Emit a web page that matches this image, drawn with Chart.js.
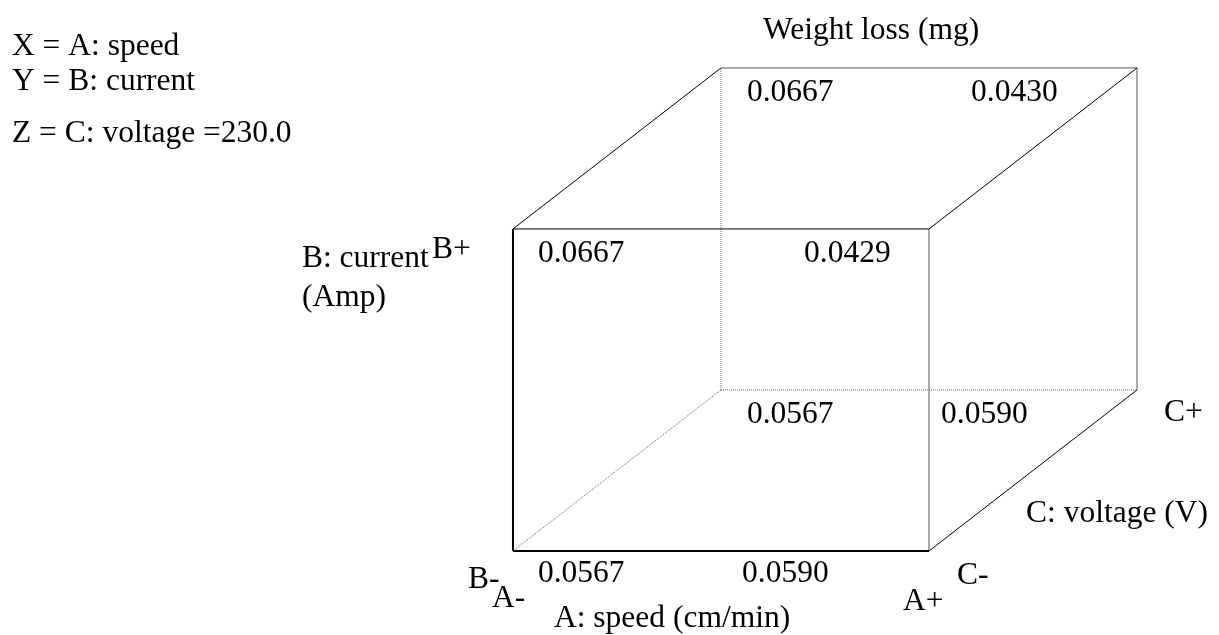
<!DOCTYPE html>
<html>
<head>
<meta charset="utf-8">
<script src="https://cdn.jsdelivr.net/npm/chart.js@4.4.0/dist/chart.umd.min.js"></script>
<style>
  html, body { margin: 0; padding: 0; background: #fff; }
  #wrap { width: 1219px; height: 635px; }
</style>
</head>
<body>
<div id="wrap"><canvas id="cubeChart"></canvas></div>
<script>
// factor levels of the 8 cube corners (coded -1 / +1)
const cornerA = [-1, 1, -1, 1, -1, 1, -1, 1];
const cornerB = [-1, -1, 1, 1, -1, -1, 1, 1];
const cornerC = [-1, -1, -1, -1, 1, 1, 1, 1];
// predicted weight loss (mg) at each corner
const weightLoss = ['0.0567', '0.0590', '0.0667', '0.0429', '0.0567', '0.0590', '0.0667', '0.0430'];

const legendLines = ['X = A: speed', 'Y = B: current', 'Z = C: voltage =230.0'];

document.addEventListener('DOMContentLoaded', function() {
    const font = '31.5px "Liberation Serif", "Times New Roman", serif';

    // oblique projection: C shifts corners up and to the right
    function proj(i) {
        const d = (cornerC[i] + 1) / 2;
        return { x: cornerA[i] + d, y: cornerB[i] + d };
    }

    // build the 12 edges: corner pairs differing in exactly one factor
    const edges = [];
    for (let i = 0; i < 8; i++) {
        for (let j = i + 1; j < 8; j++) {
            let diff = 0;
            if (cornerA[i] !== cornerA[j]) diff++;
            if (cornerB[i] !== cornerB[j]) diff++;
            if (cornerC[i] !== cornerC[j]) diff++;
            if (diff === 1) edges.push([i, j]);
        }
    }

    const datasets = edges.map(function(e) {
        const hidden = e[0] === 4 || e[1] === 4; // edges behind the cube
        const front = (e[0] === 0 && (e[1] === 1 || e[1] === 2));
        const back = cornerC[e[0]] === 1 && cornerC[e[1]] === 1;
        const rightFront = e[0] === 1 && e[1] === 3;
        return {
            data: [proj(e[0]), proj(e[1])],
            showLine: true,
            borderColor: hidden ? '#666' : (back || rightFront ? '#555' : '#000'),
            borderWidth: front ? 2 : 1,
            borderDash: hidden ? [1, 1] : [],
            pointRadius: 0,
            fill: false
        };
    });

    // per-corner label offsets in pixels
    const valueOffsets = [[25, 31], [-187, 31], [25, 33], [-125, 33], [26, 33], [-196, 33], [26, 33], [-166, 33]];

    const labelsPlugin = {
        id: 'cubeLabels',
        beforeDraw: function(chart) {
            const c = chart.ctx;
            c.save();
            c.fillStyle = '#fff';
            c.fillRect(0, 0, chart.width, chart.height);
            c.restore();
        },
        afterDatasetsDraw: function(chart) {
            const c = chart.ctx;
            const xs = chart.scales.x, ys = chart.scales.y;
            function px(i) {
                const p = proj(i);
                return { x: xs.getPixelForValue(p.x), y: ys.getPixelForValue(p.y) };
            }
            c.save();
            c.font = font;
            c.fillStyle = '#000';
            c.textAlign = 'left';
            c.textBaseline = 'alphabetic';

            for (let i = 0; i < 8; i++) {
                const p = px(i);
                c.fillText(weightLoss[i], p.x + valueOffsets[i][0], p.y + valueOffsets[i][1]);
            }

            const p0 = px(0), p1 = px(1), p2 = px(2), p5 = px(5), p6 = px(6);
            c.fillText('B-', p0.x - 45, p0.y + 37);
            c.fillText('A-', p0.x - 21, p0.y + 56);
            c.fillText('A: speed (cm/min)', p0.x + 41, p0.y + 76);
            c.fillText('A+', p1.x - 26, p1.y + 59);
            c.fillText('C-', p1.x + 28, p1.y + 33);
            c.fillText('C: voltage (V)', p1.x + 97, p1.y - 29);
            c.fillText('C+', p5.x + 27, p5.y + 31);
            c.fillText('B: current', p2.x - 211, p2.y + 38);
            c.fillText('B+', p2.x - 81, p2.y + 29);
            c.fillText('(Amp)', p2.x - 211, p2.y + 77);
            c.fillText('Weight loss (mg)', p6.x + 42, p6.y - 29);

            const legendY = [55, 90, 142];
            legendLines.forEach(function(t, k) {
                c.fillText(t, 12, legendY[k]);
            });
            c.restore();
        }
    };

    const ctx = document.getElementById('cubeChart').getContext('2d');
    new Chart(ctx, {
        type: 'scatter',
        data: { datasets: datasets },
        options: {
            responsive: true,
            maintainAspectRatio: false,
            animation: false,
            layout: { padding: 0 },
            scales: {
                x: { type: 'linear', display: false, min: -3.466, max: 2.394 },
                y: { type: 'linear', display: false, min: -1.522, max: 2.422 }
            },
            plugins: {
                legend: { display: false },
                tooltip: { enabled: false }
            }
        },
        plugins: [labelsPlugin]
    });
});
</script>
</body>
</html>
